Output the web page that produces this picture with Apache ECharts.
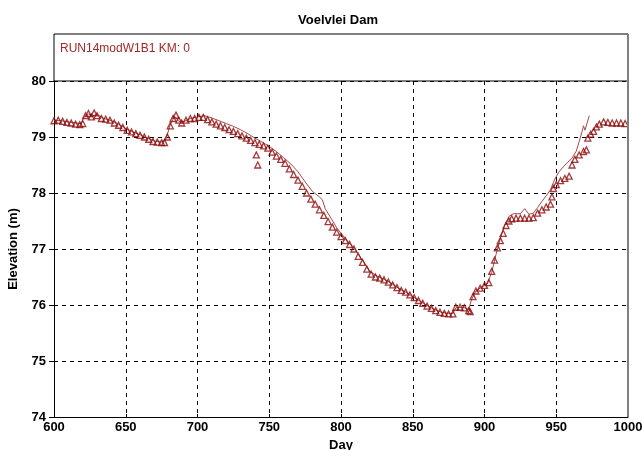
<!DOCTYPE html>
<html><head><meta charset="utf-8">
<script src="https://cdn.jsdelivr.net/npm/echarts@6/dist/echarts.min.js"></script>
<style>html,body{margin:0;padding:0;background:#fff}#c{width:642px;height:450px}</style>
</head><body><div id="c"></div>
<script>
const titleText = 'Voelvlei Dam';
const runLabel = 'RUN14modW1B1 KM: 0';
const xTicks = [600, 650, 700, 750, 800, 850, 900, 950, 1000];
const yTicks = [74, 75, 76, 77, 78, 79, 80];

const obsDays = [600,603,606,609,612,615,618,620,622,624,626,628,630,633,636,639,642,645,648,651,654,657,660,663,666,669,672,675,677,679,681,683,685,687,689,692,695,698,701,704,707,710,713,716,719,722,725,728,731,734,737,740,741,742,743,746,749,752,755,758,761,764,767,770,773,776,779,782,785,788,791,794,797,800,803,806,809,812,815,818,821,824,827,830,833,836,839,842,845,848,851,854,857,860,863,866,869,872,875,878,880,883,886,889,890,892,894,897,900,903,905,907,909,911,913,915,917,919,922,925,928,931,934,937,940,943,946,947,948,950,953,956,959,961,963,966,969,971,972,974,976,978,980,983,986,989,992,995,998];
const obsElev = [79.29,79.30,79.28,79.26,79.25,79.23,79.22,79.24,79.38,79.42,79.36,79.43,79.38,79.33,79.32,79.30,79.25,79.21,79.17,79.12,79.09,79.06,79.03,79.00,78.96,78.92,78.91,78.90,78.90,79.00,79.20,79.33,79.39,79.30,79.25,79.30,79.33,79.33,79.35,79.35,79.31,79.27,79.23,79.20,79.17,79.13,79.10,79.06,79.02,78.98,78.94,78.90,78.68,78.50,78.87,78.84,78.80,78.73,78.66,78.60,78.53,78.43,78.33,78.23,78.12,78.00,77.89,77.80,77.70,77.60,77.49,77.39,77.30,77.22,77.15,77.08,77.00,76.87,76.76,76.64,76.55,76.50,76.48,76.45,76.41,76.36,76.31,76.26,76.23,76.18,76.13,76.08,76.03,75.98,75.94,75.90,75.87,75.85,75.84,75.84,75.96,75.96,75.95,75.90,75.88,76.15,76.25,76.30,76.35,76.40,76.60,76.80,77.02,77.15,77.28,77.42,77.50,77.54,77.55,77.55,77.55,77.55,77.56,77.64,77.70,77.75,77.80,77.93,78.08,78.15,78.22,78.26,78.30,78.50,78.60,78.68,78.74,78.77,78.98,79.05,79.10,79.18,79.23,79.27,79.26,79.25,79.25,79.25,79.24];

const simDays = [600,605,610,615,619,621,624,627,630,635,640,645,650,655,660,665,670,675,678,681,684,687,690,695,700,705,710,715,720,725,730,735,740,745,750,755,760,765,770,775,780,785,787,789,793,797,800,805,810,815,820,825,830,835,840,845,850,855,860,865,870,875,878,880,885,889,891,894,898,902,905,908,911,914,917,920,925,928,931,934,937,940,943,946,949,952,955,958,961,964,966,968,969,970,971,973];
const simElev = [79.30,79.29,79.27,79.25,79.24,79.36,79.41,79.38,79.40,79.33,79.29,79.23,79.15,79.09,79.04,78.98,78.93,78.91,78.96,79.22,79.37,79.28,79.27,79.33,79.36,79.38,79.34,79.29,79.24,79.19,79.13,79.06,78.98,78.91,78.83,78.74,78.63,78.52,78.38,78.20,78.03,77.93,77.88,77.72,77.55,77.38,77.28,77.13,76.98,76.80,76.60,76.52,76.46,76.39,76.30,76.23,76.15,76.07,75.99,75.92,75.87,75.85,75.85,75.95,75.96,75.92,76.10,76.25,76.32,76.38,76.58,76.90,77.18,77.42,77.58,77.63,77.63,77.72,77.62,77.64,77.74,77.85,77.95,78.06,78.25,78.38,78.47,78.55,78.62,78.75,78.92,79.10,79.20,79.12,79.14,79.38];

const obsData = obsDays.map((d, i) => [d, obsElev[i]]);
const simData = simDays.map((d, i) => [d, simElev[i]]);

const tickFont = 'Liberation Sans Narrow, Arial Narrow, Liberation Sans, Arial, sans-serif';
const chart = echarts.init(document.getElementById('c'), null, {renderer: 'canvas'});
chart.setOption({
  animation: false,
  backgroundColor: '#fff',
  title: {text: titleText, left: 333, top: 9, textAlign: 'center',
    textStyle: {fontFamily: 'Liberation Sans, Arial, sans-serif', fontWeight: 'bold', fontSize: 13, color: '#000'}},
  grid: {left: 54, right: 14, top: 81, bottom: 33, show: false, containLabel: false, outerBoundsMode: 'none'},
  xAxis: {
    type: 'value', min: 600, max: 1000, interval: 50,
    name: 'Day', nameLocation: 'middle', nameGap: 18,
    nameTextStyle: {fontFamily: 'Liberation Sans, Arial, sans-serif', fontWeight: 'bold', fontSize: 13, color: '#000'},
    axisLine: {show: true, onZero: false, lineStyle: {color: '#000', width: 1}},
    axisTick: {show: true, length: 3, inside: true, lineStyle: {color: '#000'}},
    axisLabel: {margin: 4, fontFamily: tickFont, fontWeight: 'bold', fontSize: 13, color: '#000',
      formatter: v => xTicks.includes(v) ? String(v) : ''},
    splitLine: {show: true, lineStyle: {color: '#000', type: [4, 4], width: 1}}
  },
  yAxis: {
    type: 'value', min: 74, max: 80, interval: 1,
    name: 'Elevation (m)', nameLocation: 'middle', nameGap: 34, nameRotate: 90,
    nameTextStyle: {fontFamily: 'Liberation Sans, Arial, sans-serif', fontWeight: 'bold', fontSize: 13, color: '#000'},
    axisLine: {show: true, onZero: false, lineStyle: {color: '#000', width: 1}},
    axisTick: {show: true, length: 5, lineStyle: {color: '#000'}},
    axisLabel: {margin: 8, fontFamily: tickFont, fontWeight: 'bold', fontSize: 13, color: '#000',
      formatter: v => yTicks.includes(v) ? String(v) : ''},
    splitLine: {show: true, lineStyle: {color: '#000', type: [4, 4], width: 1}}
  },
  series: [
    {type: 'line', data: simData, showSymbol: false, symbol: 'none',
      lineStyle: {color: '#a84848', width: 1}, z: 3},
    {type: 'scatter', data: obsData, symbol: 'triangle', symbolSize: 6,
      itemStyle: {color: 'rgba(255,255,255,0)', borderColor: '#8b0a0a', borderWidth: 1.3}, z: 4}
  ],
  graphic: [
    {type: 'rect', shape: {x: 54, y: 34, width: 574, height: 47}, style: {fill: 'none', stroke: '#000', lineWidth: 1}, z: 10},
    {type: 'line', shape: {x1: 628, y1: 34, x2: 628, y2: 417}, style: {stroke: '#808080', lineWidth: 2}, z: 11},
    {type: 'text', left: 60, top: 43, style: {text: runLabel, fill: '#a02828', font: '12px Liberation Sans, Arial, sans-serif'}, z: 10}
  ]
});
</script></body></html>
